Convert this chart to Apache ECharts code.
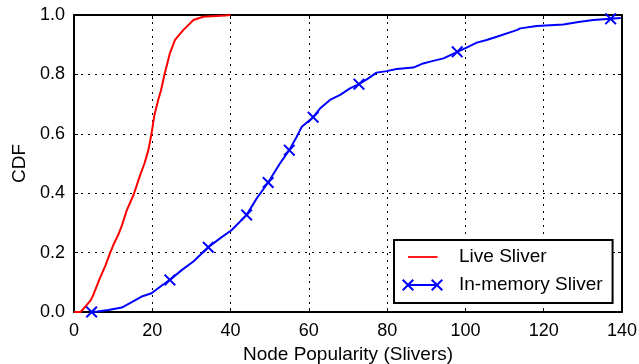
<!DOCTYPE html>
<html>
<head>
<meta charset="utf-8">
<script src="https://cdn.jsdelivr.net/npm/echarts@6/dist/echarts.min.js"></script>
<style>
  html, body { margin: 0; padding: 0; background: #ffffff; }
  #chart { width: 639px; height: 364px; }
</style>
</head>
<body>
<div id="chart"></div>
<script>
// CDF of node popularity, live slivers
const liveX = [0, 1.7, 3, 4.3, 4.9, 6.6, 8, 9.2, 10.2, 11.3, 12.2, 13.5, 15.2, 16.9, 18, 19, 19.8, 20.5, 21.5, 22.2, 23.2, 24.5, 25.8, 27.9, 29.2, 30.5, 33, 38.6, 40];
const liveY = [0, 0, 0.02, 0.04, 0.057, 0.113, 0.155, 0.198, 0.23, 0.26, 0.29, 0.343, 0.394, 0.461, 0.5, 0.545, 0.6, 0.66, 0.714, 0.745, 0.804, 0.871, 0.916, 0.949, 0.966, 0.983, 0.994, 0.998, 1.0];

// CDF of node popularity, in-memory slivers
const memX = [4.5, 6, 8.8, 12.2, 14.3, 17.3, 19.8, 22, 24.5, 27.5, 30.5, 34.3, 37.3, 40.3, 44.1, 46.7, 49.6, 52.6, 55, 56.9, 58.2, 61.1, 62.9, 65.4, 68, 70.5, 72.8, 75, 77.3, 79.9, 82.4, 86.7, 89.2, 91, 94.4, 97.9, 100.3, 102.9, 105.4, 108, 113.1, 114, 118.2, 125, 129.3, 132.7, 137.1, 139.7];
const memY = [0, 0.002, 0.007, 0.015, 0.03, 0.052, 0.063, 0.085, 0.108, 0.141, 0.17, 0.218, 0.248, 0.276, 0.327, 0.383, 0.436, 0.5, 0.545, 0.59, 0.624, 0.656, 0.686, 0.714, 0.731, 0.753, 0.767, 0.785, 0.806, 0.811, 0.818, 0.823, 0.837, 0.843, 0.854, 0.876, 0.89, 0.907, 0.916, 0.927, 0.949, 0.955, 0.963, 0.968, 0.977, 0.983, 0.987, 0.99];
// points of the in-memory curve that carry a cross marker
const memMarkX = [4.5, 24.5, 34.3, 44.1, 49.6, 55, 61.1, 72.8, 97.9, 137.1];

const seriesNames = ['Live Sliver', 'In-memory Sliver'];
const xAxisName = 'Node Popularity (Slivers)';
const yAxisName = 'CDF';
const xRange = [0, 140, 20];
const yRange = [0, 1, 0.2];

const FONT = '"Liberation Sans", Arial, Helvetica, sans-serif';
const RED = '#ff0000';
const BLUE = '#0000ff';

// cross glyph, 12x12, arms about 2px thick
const CROSS = 'M0,1.4L1.4,0L6,4.6L10.6,0L12,1.4L7.4,6L12,10.6L10.6,12L6,7.4L1.4,12L0,10.6L4.6,6Z';
const shift = (d, dx) => d.replace(/(-?\d+(?:\.\d+)?),(-?\d+(?:\.\d+)?)/g, (m, a, b) => (parseFloat(a) + dx) + ',' + b);
const crossSymbol = 'path://' + CROSS;
// legend glyphs laid out on a 52x12 box (moveTo points pin the box size)
const redIcon = 'path://M0,0M52,12M6,5.1H35.6V6.9H6Z';
const blueIcon = 'path://M0,0M52,12' + CROSS + shift(CROSS, 29) + 'M6,5.1H35V6.9H6Z';

const liveData = liveX.map((x, i) => [x, liveY[i]]);
const memData = memX.map((x, i) => ({
  value: [x, memY[i]],
  symbol: memMarkX.indexOf(x) >= 0 ? crossSymbol : 'none'
}));

function valueAxis(range, extra) {
  return Object.assign({
    type: 'value',
    min: range[0],
    max: range[1],
    interval: range[2],
    axisLine: { show: true, onZero: false, lineStyle: { color: '#000', width: 2 } },
    axisTick: { show: true, inside: true, length: 4, lineStyle: { color: '#000', width: 1 } },
    splitLine: { show: false },
    axisLabel: { show: false }
  }, extra);
}

const chart = echarts.init(document.getElementById('chart'), null, { renderer: 'canvas' });
chart.setOption({
  animation: false,
  backgroundColor: '#ffffff',
  textStyle: { fontFamily: FONT },
  grid: { left: 74, right: 17, top: 15, bottom: 52, containLabel: false, outerBoundsMode: 'none' },
  xAxis: [
    valueAxis(xRange, {
      position: 'bottom',
      name: xAxisName,
      nameLocation: 'middle',
      nameGap: 30,
      nameTextStyle: { fontSize: 19, color: '#000', fontFamily: FONT },
      axisLabel: { show: true, margin: 10, fontSize: 18, color: '#000', fontFamily: FONT,
        formatter: v => String(v) },
      splitLine: { show: true, lineStyle: { color: '#000', width: 1, type: [2, 5] } }
    }),
    valueAxis(xRange, { position: 'top' })
  ],
  yAxis: [
    valueAxis(yRange, {
      position: 'left',
      name: yAxisName,
      nameLocation: 'middle',
      nameGap: 45,
      nameRotate: 90,
      nameTextStyle: { fontSize: 19, color: '#000', fontFamily: FONT },
      axisLabel: { show: true, margin: 9, fontSize: 18, color: '#000', fontFamily: FONT,
        formatter: v => v.toFixed(1) },
      splitLine: { show: true, lineStyle: { color: '#000', width: 1, type: [2, 5] } }
    }),
    valueAxis(yRange, { position: 'right' })
  ],
  legend: {
    left: 394,
    top: 240,
    orient: 'vertical',
    align: 'left',
    padding: [7, 10, 8, 8],
    itemGap: 8,
    itemWidth: 52,
    itemHeight: 12,
    backgroundColor: '#ffffff',
    borderColor: '#000',
    borderWidth: 2,
    borderRadius: 0,
    itemStyle: { borderWidth: 0 },
    textStyle: { fontSize: 19, color: '#000', fontFamily: FONT, lineHeight: 20, padding: 0 },
    data: [
      { name: seriesNames[0], icon: redIcon },
      { name: seriesNames[1], icon: blueIcon }
    ]
  },
  series: [
    {
      name: seriesNames[0],
      type: 'line',
      data: liveData,
      symbol: 'none',
      color: RED,
      lineStyle: { color: RED, width: 2 },
      itemStyle: { color: RED, borderWidth: 0 },
      z: 3
    },
    {
      name: seriesNames[1],
      type: 'line',
      data: memData,
      symbol: crossSymbol,
      symbolSize: 12,
      showSymbol: true,
      showAllSymbol: true,
      color: BLUE,
      lineStyle: { color: BLUE, width: 2 },
      itemStyle: { color: BLUE, borderWidth: 0 },
      z: 4
    }
  ]
});
</script>
</body>
</html>
